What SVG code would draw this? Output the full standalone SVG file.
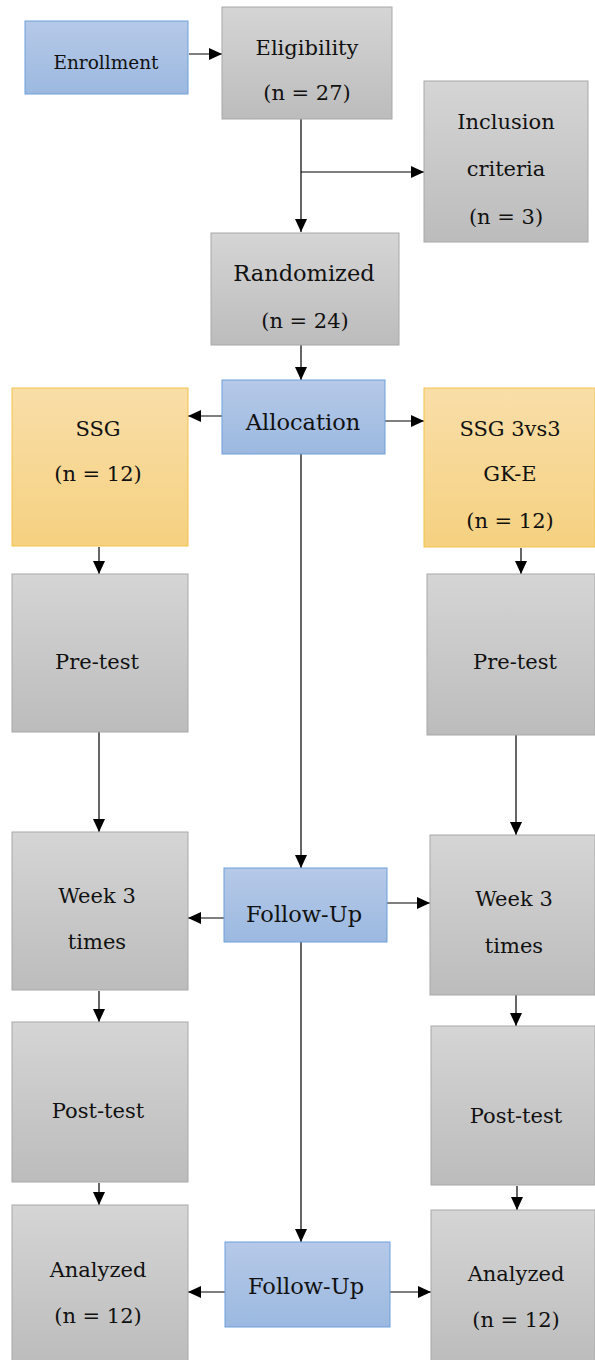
<svg xmlns="http://www.w3.org/2000/svg" width="595" height="1360" viewBox="0 0 595 1360">
<defs>
<linearGradient id="gGrey" x1="0" y1="0" x2="0" y2="1"><stop offset="0" stop-color="#d5d5d5"/><stop offset="1" stop-color="#bcbcbc"/></linearGradient>
<linearGradient id="gBlue" x1="0" y1="0" x2="0" y2="1"><stop offset="0" stop-color="#b6c9e8"/><stop offset="1" stop-color="#9bb9e0"/></linearGradient>
<linearGradient id="gOrange" x1="0" y1="0" x2="0" y2="1"><stop offset="0" stop-color="#f9dea8"/><stop offset="1" stop-color="#f5d180"/></linearGradient>
<marker id="arr" viewBox="0 0 13 12" refX="13" refY="6" markerWidth="13" markerHeight="12" markerUnits="userSpaceOnUse" orient="auto"><path d="M0,0 L13,6 L0,12 Z" fill="#000"/></marker>
</defs>
<style>
.grey{fill:url(#gGrey);stroke:#a8a8a8;stroke-width:1}
.blue{fill:url(#gBlue);stroke:#6f9fdb;stroke-width:1}
.orange{fill:url(#gOrange);stroke:#f3c24c;stroke-width:1}
text{font-family:"DejaVu Serif","Liberation Serif",serif;font-size:21px;fill:#111;text-anchor:middle}
.big{font-size:22.5px}
.c line{stroke:#000;stroke-width:1.2;fill:none}
</style>
<rect width="595" height="1360" fill="#fff"/>
<g class="c" id="connectors">
<line x1="189" y1="54" x2="222" y2="54" marker-end="url(#arr)"/>
<line x1="301" y1="119" x2="301" y2="232" marker-end="url(#arr)"/>
<line x1="301" y1="172" x2="424" y2="172" marker-end="url(#arr)"/>
<line x1="301" y1="345" x2="301" y2="380" marker-end="url(#arr)"/>
<line x1="222" y1="416" x2="188" y2="416" marker-end="url(#arr)"/>
<line x1="385" y1="421" x2="424" y2="421" marker-end="url(#arr)"/>
<line x1="301" y1="454" x2="301" y2="868" marker-end="url(#arr)"/>
<line x1="99" y1="547" x2="99" y2="574" marker-end="url(#arr)"/>
<line x1="521" y1="548" x2="521" y2="574" marker-end="url(#arr)"/>
<line x1="99" y1="732" x2="99" y2="832" marker-end="url(#arr)"/>
<line x1="516" y1="735" x2="516" y2="835" marker-end="url(#arr)"/>
<line x1="224" y1="918" x2="188" y2="918" marker-end="url(#arr)"/>
<line x1="387" y1="903" x2="430" y2="903" marker-end="url(#arr)"/>
<line x1="301" y1="942" x2="301" y2="1242" marker-end="url(#arr)"/>
<line x1="99" y1="991" x2="99" y2="1022" marker-end="url(#arr)"/>
<line x1="516" y1="995" x2="516" y2="1026" marker-end="url(#arr)"/>
<line x1="99" y1="1183" x2="99" y2="1205" marker-end="url(#arr)"/>
<line x1="517" y1="1186" x2="517" y2="1210" marker-end="url(#arr)"/>
<line x1="226" y1="1292" x2="188" y2="1292" marker-end="url(#arr)"/>
<line x1="390" y1="1292" x2="431" y2="1292" marker-end="url(#arr)"/>
</g>
<g id="enrollment"><rect class="blue" x="25" y="21" width="163" height="73"/><text x="106" y="69" style="font-size:18.5px">Enrollment</text></g>
<g id="eligibility"><rect class="grey" x="222" y="7" width="170" height="112"/><text x="307" y="55">Eligibility</text><text x="307" y="100">(n = 27)</text></g>
<g id="inclusion"><rect class="grey" x="424" y="81" width="164" height="161"/><text x="506" y="129">Inclusion</text><text x="506" y="176">criteria</text><text x="506" y="224">(n = 3)</text></g>
<g id="randomized"><rect class="grey" x="211" y="233" width="188" height="112"/><text class="big" x="304" y="281">Randomized</text><text x="305" y="328">(n = 24)</text></g>
<g id="allocation"><rect class="blue" x="222" y="380" width="163" height="74"/><text class="big" x="303" y="430">Allocation</text></g>
<g id="ssg"><rect class="orange" x="12" y="388" width="176" height="158"/><text x="98" y="436">SSG</text><text x="98" y="481">(n = 12)</text></g>
<g id="ssg3"><rect class="orange" x="424" y="388" width="171" height="159"/><text x="510" y="436">SSG 3vs3</text><text x="510" y="481">GK-E</text><text x="510" y="528">(n = 12)</text></g>
<g id="pretest-l"><rect class="grey" x="12" y="574" width="176" height="158"/><text x="97" y="669">Pre-test</text></g>
<g id="pretest-r"><rect class="grey" x="427" y="574" width="168" height="161"/><text x="515" y="669">Pre-test</text></g>
<g id="week-l"><rect class="grey" x="12" y="832" width="176" height="158"/><text x="97" y="903">Week 3</text><text x="97" y="949">times</text></g>
<g id="followup1"><rect class="blue" x="224" y="868" width="163" height="74"/><text class="big" x="304" y="922">Follow-Up</text></g>
<g id="week-r"><rect class="grey" x="430" y="835" width="165" height="160"/><text x="514" y="906">Week 3</text><text x="514" y="953">times</text></g>
<g id="posttest-l"><rect class="grey" x="12" y="1022" width="176" height="160"/><text x="98" y="1118">Post-test</text></g>
<g id="posttest-r"><rect class="grey" x="431" y="1026" width="164" height="159"/><text x="516" y="1123">Post-test</text></g>
<g id="analyzed-l"><rect class="grey" x="12" y="1205" width="176" height="160"/><text x="98" y="1277">Analyzed</text><text x="98" y="1323">(n = 12)</text></g>
<g id="followup2"><rect class="blue" x="225" y="1242" width="165" height="85"/><text class="big" x="306" y="1294">Follow-Up</text></g>
<g id="analyzed-r"><rect class="grey" x="431" y="1210" width="164" height="155"/><text x="516" y="1281">Analyzed</text><text x="516" y="1327">(n = 12)</text></g>
</svg>
